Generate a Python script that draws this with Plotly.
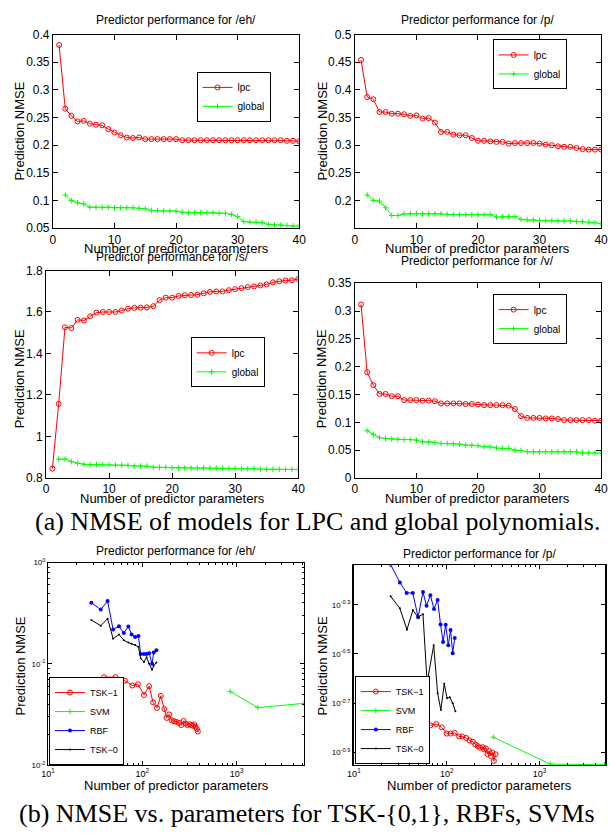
import plotly.graph_objects as go

W, H = 612, 835

# ---------------- data ----------------
n_lpc = list(range(1, 41))
n_glob = list(range(2, 41))

eh_lpc = [0.381, 0.266, 0.253, 0.243, 0.244, 0.239, 0.237, 0.236, 0.229, 0.223,
          0.218, 0.214, 0.213, 0.214, 0.211, 0.211, 0.211, 0.211, 0.211, 0.211,
          0.209, 0.209, 0.209, 0.209, 0.209, 0.209, 0.209, 0.209, 0.209, 0.209,
          0.209, 0.209, 0.209, 0.209, 0.209, 0.209, 0.209, 0.208, 0.208, 0.207]
eh_glob = [0.110, 0.100, 0.096, 0.094, 0.088, 0.088, 0.088, 0.088, 0.087, 0.087,
           0.087, 0.087, 0.086, 0.085, 0.082, 0.082, 0.081, 0.081, 0.081, 0.079,
           0.078, 0.078, 0.078, 0.078, 0.078, 0.077, 0.077, 0.075, 0.071, 0.062,
           0.061, 0.061, 0.060, 0.057, 0.056, 0.056, 0.055, 0.054, 0.054]

p_lpc = [0.454, 0.387, 0.383, 0.360, 0.360, 0.357, 0.357, 0.356, 0.353, 0.354,
         0.348, 0.349, 0.341, 0.324, 0.324, 0.319, 0.318, 0.318, 0.313, 0.308,
         0.308, 0.307, 0.306, 0.306, 0.303, 0.304, 0.304, 0.304, 0.304, 0.303,
         0.301, 0.300, 0.298, 0.297, 0.297, 0.295, 0.293, 0.292, 0.292, 0.292]
p_glob = [0.210, 0.200, 0.199, 0.187, 0.173, 0.173, 0.176, 0.176, 0.1765, 0.176,
          0.176, 0.176, 0.176, 0.175, 0.1745, 0.1745, 0.1745, 0.1745, 0.1745, 0.1745,
          0.1745, 0.170, 0.171, 0.171, 0.171, 0.166, 0.165, 0.165, 0.164, 0.1635,
          0.1635, 0.163, 0.163, 0.163, 0.162, 0.162, 0.160, 0.160, 0.158]

s_lpc = [0.845, 1.157, 1.526, 1.523, 1.562, 1.559, 1.579, 1.597, 1.600, 1.600,
         1.600, 1.607, 1.616, 1.620, 1.621, 1.622, 1.628, 1.657, 1.669, 1.669,
         1.677, 1.681, 1.682, 1.683, 1.690, 1.697, 1.699, 1.699, 1.705, 1.710,
         1.715, 1.720, 1.723, 1.728, 1.733, 1.743, 1.748, 1.752, 1.753, 1.759]
s_glob = [0.891, 0.891, 0.879, 0.871, 0.866, 0.864, 0.864, 0.864, 0.863, 0.862,
          0.862, 0.861, 0.858, 0.858, 0.857, 0.852, 0.851, 0.851, 0.849, 0.848,
          0.848, 0.848, 0.848, 0.848, 0.847, 0.847, 0.847, 0.845, 0.845, 0.845,
          0.844, 0.844, 0.842, 0.842, 0.842, 0.842, 0.841, 0.841, 0.841]

v_lpc = [0.312, 0.190, 0.167, 0.151, 0.151, 0.147, 0.147, 0.140, 0.140, 0.140,
         0.139, 0.139, 0.138, 0.134, 0.134, 0.134, 0.134, 0.133, 0.133, 0.132,
         0.131, 0.131, 0.131, 0.131, 0.130, 0.124, 0.111, 0.108, 0.108, 0.108,
         0.107, 0.107, 0.106, 0.104, 0.104, 0.104, 0.104, 0.104, 0.103, 0.103]
v_glob = [0.085, 0.078, 0.0725, 0.071, 0.070, 0.069, 0.069, 0.069, 0.068, 0.065,
          0.065, 0.064, 0.062, 0.062, 0.061, 0.061, 0.059, 0.059, 0.058, 0.056,
          0.056, 0.054, 0.053, 0.053, 0.050, 0.0495, 0.047, 0.047, 0.047, 0.047,
          0.047, 0.047, 0.047, 0.047, 0.047, 0.045, 0.045, 0.045, 0.045]

# bottom-left (/eh/), log-log
eh_tsk1_x = [39.3, 51.9, 65.3, 78.3, 89.8, 104, 118, 130, 143, 157, 171, 181, 193, 205,
             217, 230, 245, 259, 274, 287, 301, 316, 331, 344, 356, 367, 379, 388]
eh_tsk1_y = [0.0738, 0.0738, 0.0681, 0.0610, 0.0628, 0.0492, 0.0601, 0.0416, 0.0367,
             0.0482, 0.0358, 0.0292, 0.0316, 0.0277, 0.0271, 0.0267, 0.0261, 0.0248,
             0.0273, 0.0257, 0.0248, 0.0253, 0.0248, 0.0244, 0.0252, 0.0239, 0.0227, 0.0214]
eh_svm_x = [853, 1680, 5200]
eh_svm_y = [0.0534, 0.0369, 0.0407]
eh_rbf_x = [28.8, 36.2, 42.8, 49.0, 56.5, 63.6, 71.1, 76.9, 83.9, 90.9, 96.1, 104, 111,
            118, 127, 132, 141]
eh_rbf_y = [0.401, 0.343, 0.416, 0.218, 0.235, 0.201, 0.233, 0.195, 0.184, 0.188,
            0.125, 0.125, 0.125, 0.127, 0.100, 0.129, 0.136]
eh_tsk0_x = [28.8, 36.2, 42.8, 49.0, 56.5, 63.6, 71.1, 76.9, 83.9, 90.9, 96.1, 104, 111,
             118, 127, 132, 141]
eh_tsk0_y = [0.270, 0.238, 0.279, 0.177, 0.195, 0.171, 0.162, 0.158, 0.153, 0.147,
             0.1135, 0.104, 0.116, 0.100, 0.0875, 0.0956, 0.103]

# bottom-right (/p/), log-log
p_tsk1_x = [24.9, 31.3, 37.0, 43.1, 49.2, 55.8, 66.7, 77.1, 88.5, 100, 110, 122, 136,
            147, 162, 176, 191, 203, 216, 228, 243, 253, 264, 275, 286, 298, 310, 322, 336]
p_tsk1_y = [0.182, 0.178, 0.174, 0.170, 0.168, 0.1656, 0.162, 0.164, 0.159, 0.150,
            0.150, 0.151, 0.146, 0.146, 0.144, 0.1406, 0.139, 0.1355, 0.1334, 0.1314,
            0.132, 0.1294, 0.1306, 0.1236, 0.1274, 0.1217, 0.1256, 0.1161, 0.1236]
p_svm_x = [318, 1306, 5000]
p_svm_y = [0.145, 0.1127, 0.1120]
p_rbf_x = [24.9, 31.3, 37.0, 43.1, 49.2, 55.5, 60.6, 66.7, 72.9, 79.8, 85.8, 91.4, 97.5,
           104, 110, 116, 122]
p_rbf_y = [0.730, 0.618, 0.560, 0.560, 0.446, 0.565, 0.497, 0.548, 0.482, 0.524, 0.417,
           0.354, 0.416, 0.343, 0.396, 0.318, 0.367]
p_tsk0_x = [24.9, 31.3, 37.3, 43.2, 48.9, 55.5, 61.5, 72.4, 79.8, 86.5, 94.1, 101, 108,
            116, 124]
p_tsk0_y = [0.543, 0.485, 0.397, 0.477, 0.447, 0.459, 0.242, 0.343, 0.219, 0.187, 0.239,
            0.209, 0.211, 0.1995, 0.185]

# tick labels
lin_x_ticks = [0, 10, 20, 30, 40]
eh_y_ticks = [0.05, 0.1, 0.15, 0.2, 0.25, 0.3, 0.35, 0.4]
p_y_ticks = [0.2, 0.25, 0.3, 0.35, 0.4, 0.45, 0.5]
s_y_ticks = [0.8, 1.0, 1.2, 1.4, 1.6, 1.8]
s_y_text = ["0.8", "1", "1.2", "1.4", "1.6", "1.8"]
v_y_ticks = [0, 0.05, 0.1, 0.15, 0.2, 0.25, 0.3, 0.35]
log_x_ticks = [10, 100, 1000]
log_x_text = ["10<sup>1</sup>", "10<sup>2</sup>", "10<sup>3</sup>"]
ehb_y_ticks = [0.01, 0.1, 1]
ehb_y_text = ["10<sup>-2</sup>", "10<sup>-1</sup>", "10<sup>0</sup>"]
pb_y_exps = [-0.9, -0.7, -0.5, -0.3]
pb_y_text = ["10<sup>-0.9</sup>", "10<sup>-0.7</sup>", "10<sup>-0.5</sup>", "10<sup>-0.3</sup>"]

titles = ["Predictor performance for /eh/", "Predictor performance for /p/",
          "Predictor performance for /s/", "Predictor performance for /v/",
          "Predictor performance for /eh/", "Predictor performance for /p/"]
xlabel = "Number of predictor parameters"
ylabel = "Prediction NMSE"
cap_a = "(a) NMSE of models for LPC and global polynomials."
cap_b = "(b) NMSE vs. parameters for TSK-{0,1}, RBFs, SVMs"

# ---------------- layout helpers ----------------
RED, GREEN, BLUE, BLACK = "rgb(255,0,0)", "rgb(0,255,0)", "rgb(0,0,255)", "black"
FONT = "Liberation Sans, Arial, sans-serif"
SERIF = "Liberation Serif, Times New Roman, serif"


def fx(p):
    return p / W


def fy(p):
    return 1 - p / H


# panel frames in pixels: left, right, top, bottom
frames = [(47, 299, 28, 225), (356, 608, 28, 225),
          (40, 298, 268, 479), (356, 608, 281, 479),
          (42, 304, 565, 771), (355, 612, 568, 771)]

fig = go.Figure()


def lpc_pair(x1, y1, x2, y2, k):
    ax = "" if k == 1 else str(k)
    leg = "legend" if k == 1 else "legend%d" % k
    fig.add_trace(go.Scatter(x=x1, y=y1, mode="lines+markers", name="lpc",
                             xaxis="x" + ax, yaxis="y" + ax, legend=leg,
                             line=dict(color=RED, width=1),
                             marker=dict(symbol="circle-open", size=5, color=RED,
                                         line=dict(width=1, color=RED))))
    fig.add_trace(go.Scatter(x=x2, y=y2, mode="lines+markers", name="global",
                             xaxis="x" + ax, yaxis="y" + ax, legend=leg,
                             line=dict(color=GREEN, width=1),
                             marker=dict(symbol="cross-thin-open", size=4, color=GREEN,
                                         line=dict(width=1, color=GREEN))))


lpc_pair(n_lpc, eh_lpc, n_glob, eh_glob, 1)
lpc_pair(n_lpc, p_lpc, n_glob, p_glob, 2)
lpc_pair(n_lpc, s_lpc, n_glob, s_glob, 3)
lpc_pair(n_lpc, v_lpc, n_glob, v_glob, 4)


def tsk_group(t1x, t1y, sx, sy, rx, ry, t0x, t0y, k):
    ax = str(k)
    leg = "legend%d" % k
    fig.add_trace(go.Scatter(x=t1x, y=t1y, mode="lines+markers", name="TSK\u22121",
                             xaxis="x" + ax, yaxis="y" + ax, legend=leg,
                             line=dict(color=RED, width=1),
                             marker=dict(symbol="circle-open", size=5, color=RED,
                                         line=dict(width=1, color=RED))))
    fig.add_trace(go.Scatter(x=sx, y=sy, mode="lines+markers", name="SVM",
                             xaxis="x" + ax, yaxis="y" + ax, legend=leg,
                             line=dict(color=GREEN, width=1),
                             marker=dict(symbol="cross-thin-open", size=4, color=GREEN,
                                         line=dict(width=1, color=GREEN))))
    fig.add_trace(go.Scatter(x=rx, y=ry, mode="lines+markers", name="RBF",
                             xaxis="x" + ax, yaxis="y" + ax, legend=leg,
                             line=dict(color=BLUE, width=1),
                             marker=dict(symbol="circle", size=4, color=BLUE)))
    fig.add_trace(go.Scatter(x=t0x, y=t0y, mode="lines+markers", name="TSK\u22120",
                             xaxis="x" + ax, yaxis="y" + ax, legend=leg,
                             line=dict(color=BLACK, width=1),
                             marker=dict(symbol="circle", size=2, color=BLACK)))


tsk_group(eh_tsk1_x, eh_tsk1_y, eh_svm_x, eh_svm_y, eh_rbf_x, eh_rbf_y,
          eh_tsk0_x, eh_tsk0_y, 5)
tsk_group(p_tsk1_x, p_tsk1_y, p_svm_x, p_svm_y, p_rbf_x, p_rbf_y,
          p_tsk0_x, p_tsk0_y, 6)


def base_axis(**kw):
    d = dict(showline=True, linecolor="black", linewidth=1, mirror="ticks",
             ticks="inside", ticklen=5, tickcolor="black", tickwidth=1,
             showgrid=False, zeroline=False,
             tickfont=dict(size=12, color="black", family=FONT))
    d.update(kw)
    return d


layout = dict(width=W, height=H, margin=dict(l=0, r=0, t=0, b=0),
              paper_bgcolor="white", plot_bgcolor="white",
              font=dict(family=FONT, color="black"), hovermode=False)

lin_ranges = [([0.05, 0.4], eh_y_ticks, None), ([0.15, 0.5], p_y_ticks, None),
              ([0.8, 1.8], s_y_ticks, s_y_text), ([0, 0.35], v_y_ticks, None)]

for i in range(4):
    l, r, t, b = frames[i]
    k = i + 1
    xn = "xaxis" if k == 1 else "xaxis%d" % k
    yn = "yaxis" if k == 1 else "yaxis%d" % k
    ya = "y" if k == 1 else "y%d" % k
    xa = "x" if k == 1 else "x%d" % k
    yr, yt, ytt = lin_ranges[i]
    layout[xn] = base_axis(domain=[fx(l), fx(r)], anchor=ya, range=[0, 40],
                           tickmode="array", tickvals=lin_x_ticks)
    ydict = base_axis(domain=[fy(b), fy(t)], anchor=xa, range=yr,
                      tickmode="array", tickvals=yt)
    if ytt:
        ydict["ticktext"] = ytt
    layout[yn] = ydict

minor_x = [20, 30, 40, 50, 60, 70, 80, 90, 200, 300, 400, 500, 600, 700, 800, 900,
           2000, 3000, 4000, 5000]
minor_y5 = [0.02, 0.03, 0.04, 0.05, 0.06, 0.07, 0.08, 0.09,
            0.2, 0.3, 0.4, 0.5, 0.6, 0.7, 0.8, 0.9]

l, r, t, b = frames[4]
layout["xaxis5"] = base_axis(domain=[fx(l), fx(r)], anchor="y5", type="log",
                             range=[1, 3.715], tickmode="array", tickvals=log_x_ticks,
                             ticktext=log_x_text, ticklen=4,
                             tickfont=dict(size=9, color="black", family=FONT),
                             minor=dict(tickmode="array", tickvals=minor_x, ticks="inside",
                                        ticklen=2, tickcolor="black", showgrid=False))
layout["yaxis5"] = base_axis(domain=[fy(b), fy(t)], anchor="x5", type="log",
                             range=[-2, 0], tickmode="array", tickvals=ehb_y_ticks,
                             ticktext=ehb_y_text, ticklen=4,
                             tickfont=dict(size=8, color="black", family=FONT),
                             minor=dict(tickmode="array", tickvals=minor_y5, ticks="inside",
                                        ticklen=2, tickcolor="black", showgrid=False))
l, r, t, b = frames[5]
layout["xaxis6"] = base_axis(domain=[fx(l), min(1.0, fx(r))], anchor="y6", type="log",
                             range=[1, 3.705], tickmode="array", tickvals=log_x_ticks,
                             ticktext=log_x_text, ticklen=4,
                             tickfont=dict(size=9, color="black", family=FONT),
                             minor=dict(tickmode="array", tickvals=minor_x, ticks="inside",
                                        ticklen=2, tickcolor="black", showgrid=False))
layout["yaxis6"] = base_axis(domain=[fy(b), fy(t)], anchor="x6", type="log",
                             range=[-0.952, -0.14], tickmode="array",
                             tickvals=[10 ** e for e in pb_y_exps], ticktext=pb_y_text,
                             ticklen=4, linewidth=2,
                             tickfont=dict(size=8, color="black", family=FONT))

# legends
leg_style = dict(bgcolor="white", bordercolor="black", borderwidth=1,
                 xanchor="left", tracegroupgap=0, itemwidth=30)
leg_pos = [(194, 66, "top", 10), (497, 33, "top", 10), (188, 336, "top", 10),
           (497, 292, "top", 10), (43, 771, "bottom", 9), (356, 770, "bottom", 9)]
for i, (lx, ly, anc, fs) in enumerate(leg_pos):
    name = "legend" if i == 0 else "legend%d" % (i + 1)
    d = dict(leg_style)
    d.update(x=fx(lx), y=fy(ly), yanchor=anc,
             font=dict(size=fs, color="black", family=FONT))
    layout[name] = d

ann = []
title_y = [13, 13, 254, 258, 553, 556]
xlab_y = [246, 246, 500, 500, 792, 792]
ylab_x = [13, 323, 13, 322, 14, 323]
ylab_y = [126, 126, 378, 378, 670, 670]
for i in range(6):
    l, r, t, b = frames[i]
    cx = (l + r) / 2
    ann.append(dict(text=xlabel, x=fx(cx), y=fy(xlab_y[i]), xref="paper", yref="paper",
                    xanchor="center", yanchor="middle", showarrow=False,
                    font=dict(size=13, family=FONT, color="black")))
    ann.append(dict(text=ylabel, x=fx(ylab_x[i]), y=fy(ylab_y[i]), xref="paper",
                    yref="paper", xanchor="center", yanchor="middle", showarrow=False,
                    textangle=-90, font=dict(size=13, family=FONT, color="black")))
for i in range(6):
    l, r, t, b = frames[i]
    cx = (l + r) / 2
    ann.append(dict(text=titles[i], x=fx(cx), y=fy(title_y[i]), xref="paper", yref="paper",
                    xanchor="center", yanchor="middle", showarrow=False,
                    font=dict(size=12, family=FONT, color="black")))

ann.append(dict(text=cap_a, x=fx(318), y=fy(523), xref="paper", yref="paper",
                xanchor="center", yanchor="middle", showarrow=False,
                font=dict(size=26, family=SERIF, color="black")))
ann.append(dict(text=cap_b, x=fx(307), y=fy(820), xref="paper", yref="paper",
                xanchor="center", yanchor="middle", showarrow=False,
                font=dict(size=26, family=SERIF, color="black")))
layout["annotations"] = ann

fig.update_layout(**layout)
fig.write_html("out.html",
               config={"displayModeBar": False, "staticPlot": True},
               post_script="document.body.style.margin='0px';"
                           "document.body.style.overflow='hidden';")
